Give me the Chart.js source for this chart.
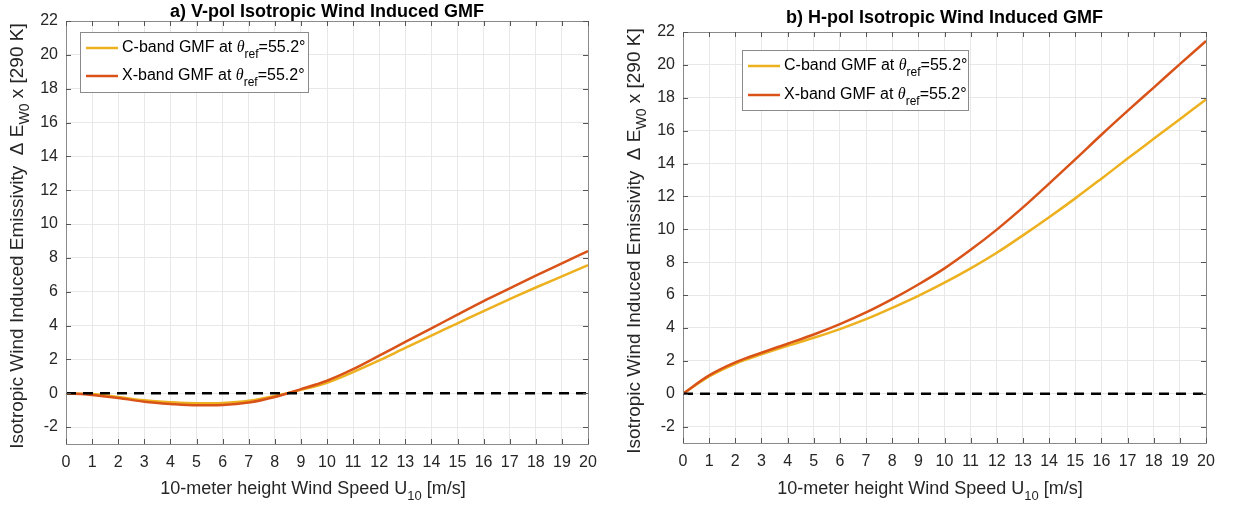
<!DOCTYPE html>
<html>
<head>
<meta charset="utf-8">
<script src="https://cdn.jsdelivr.net/npm/chart.js@4"></script>
<style>
  body { margin: 0; background: #fff; }
  #wrap { position: relative; width: 1242px; height: 509px; }
  canvas { position: absolute; top: 0; }
</style>
</head>
<body>
<div id="wrap">
  <canvas id="vpol" width="620" height="509" style="left:0"></canvas>
  <canvas id="hpol" width="622" height="509" style="left:620px"></canvas>
</div>
<script>
// wind speed U10 [m/s]
const windSpeed = [0, 1, 2, 3, 4, 5, 6, 7, 8, 9, 10, 11, 12, 13, 14, 15, 16, 17, 18, 19, 20];

// V-pol isotropic wind induced emissivity (x 290 K)
const vpolC = [0, -0.05, -0.22, -0.42, -0.53, -0.59, -0.57, -0.45, -0.16, 0.2, 0.62, 1.25, 1.94, 2.68, 3.41, 4.13, 4.86, 5.56, 6.25, 6.91, 7.57];
const vpolX = [0, -0.1, -0.28, -0.5, -0.63, -0.71, -0.69, -0.55, -0.22, 0.24, 0.74, 1.42, 2.22, 3.03, 3.83, 4.65, 5.45, 6.2, 6.95, 7.68, 8.4];

// H-pol isotropic wind induced emissivity (x 290 K)
const hpolC = [0, 1.05, 1.82, 2.39, 2.91, 3.4, 3.93, 4.53, 5.22, 5.95, 6.75, 7.62, 8.57, 9.63, 10.73, 11.88, 13.08, 14.3, 15.5, 16.7, 17.9];
const hpolX = [0, 1.11, 1.9, 2.49, 3.04, 3.6, 4.23, 4.94, 5.75, 6.64, 7.62, 8.75, 9.98, 11.33, 12.78, 14.25, 15.75, 17.2, 18.62, 20.05, 21.45];

// zero reference line
const zeroLineX = [0, 20];
const zeroLineY = [0, 0];

const xTickValues = [0, 1, 2, 3, 4, 5, 6, 7, 8, 9, 10, 11, 12, 13, 14, 15, 16, 17, 18, 19, 20];
const yTickValues = [-2, 0, 2, 4, 6, 8, 10, 12, 14, 16, 18, 20, 22];

const FONT = '"Liberation Sans", Arial, Helvetica, sans-serif';
const SERIF = '"Liberation Serif", "DejaVu Serif", serif';
const C_COLOR = '#EDB120';
const X_COLOR = '#D95319';

const xTitle = [{ t: '10-meter height Wind Speed U' }, { t: '10', sub: true }, { t: ' [m/s]' }];
const yTitle = [{ t: 'Isotropic Wind Induced Emissivity  \u0394 E' }, { t: 'W0', sub: true }, { t: ' x [290 K]' }];
const legendItems = [
  { color: C_COLOR, parts: [{ t: 'C-band GMF at ' }, { t: '\u03b8', it: true }, { t: 'ref', sub: true }, { t: '=55.2\u00b0' }] },
  { color: X_COLOR, parts: [{ t: 'X-band GMF at ' }, { t: '\u03b8', it: true }, { t: 'ref', sub: true }, { t: '=55.2\u00b0' }] }
];

function layoutRich(ctx, parts, size) {
  return parts.map(p => {
    const s = p.sub ? Math.round(size * 0.72) : size;
    const font = (p.it ? 'italic ' : '') + s + 'px ' + (p.it ? SERIF : FONT);
    ctx.font = font;
    return Object.assign({}, p, { font, w: ctx.measureText(p.t).width });
  });
}

function drawRich(ctx, parts, x, y, size, align) {
  const items = layoutRich(ctx, parts, size);
  const total = items.reduce((a, b) => a + b.w, 0);
  let cx = align === 'center' ? x - total / 2 : x;
  ctx.textAlign = 'left';
  ctx.textBaseline = 'middle';
  items.forEach(p => {
    ctx.font = p.font;
    ctx.fillText(p.t, cx, y + (p.sub ? size * 0.4 : 0));
    cx += p.w;
  });
}

// axes box, inward ticks, titles and legend
const gmfDeco = {
  id: 'gmfDeco',
  afterDraw(chart, args, o) {
    const { ctx, chartArea: a, scales } = chart;
    ctx.save();
    ctx.lineWidth = 1;
    ctx.strokeStyle = '#8a8a8a';
    ctx.strokeRect(Math.round(a.left) + 0.5, Math.round(a.top) + 0.5, Math.round(a.width), Math.round(a.height));

    ctx.strokeStyle = '#555';
    ctx.beginPath();
    scales.x.ticks.forEach(t => {
      const px = Math.round(scales.x.getPixelForValue(t.value)) + 0.5;
      ctx.moveTo(px, a.bottom); ctx.lineTo(px, a.bottom - 5);
      ctx.moveTo(px, a.top); ctx.lineTo(px, a.top + 5);
    });
    scales.y.ticks.forEach(t => {
      const py = Math.round(scales.y.getPixelForValue(t.value)) + 0.5;
      ctx.moveTo(a.left, py); ctx.lineTo(a.left + 5, py);
      ctx.moveTo(a.right, py); ctx.lineTo(a.right - 5, py);
    });
    ctx.stroke();

    ctx.fillStyle = '#000';
    ctx.font = 'bold 18px ' + FONT;
    ctx.textAlign = 'center';
    ctx.textBaseline = 'middle';
    ctx.fillText(o.title, (a.left + a.right) / 2, o.titleY);

    ctx.fillStyle = '#262626';
    drawRich(ctx, xTitle, o.xTitleX, o.xTitleY, 18, 'center');
    ctx.save();
    ctx.translate(o.yTitleX, o.yTitleY);
    ctx.rotate(-Math.PI / 2);
    drawRich(ctx, yTitle, 0, 0, 19, 'center');
    ctx.restore();

    const L = o.legend;
    ctx.fillStyle = '#fff';
    ctx.fillRect(L.x, L.y, L.w, L.h);
    ctx.strokeStyle = '#8a8a8a';
    ctx.lineWidth = 1;
    ctx.strokeRect(L.x + 0.5, L.y + 0.5, L.w, L.h);
    legendItems.forEach((item, i) => {
      const ry = L.y + L.rows[i];
      ctx.strokeStyle = item.color;
      ctx.lineWidth = 2.5;
      ctx.beginPath();
      ctx.moveTo(L.x + 6, ry); ctx.lineTo(L.x + 38, ry);
      ctx.stroke();
      ctx.fillStyle = '#000';
      drawRich(ctx, item.parts, L.x + 42, ry, 16, 'left');
    });
    ctx.restore();
  }
};

function series(xs, ys) {
  return xs.map((x, i) => ({ x, y: ys[i] }));
}

function makeChart(id, c, x, deco, pad, yWidth, xHeight) {
  return new Chart(document.getElementById(id), {
    type: 'line',
    data: {
      datasets: [
        { data: series(zeroLineX, zeroLineY), borderColor: '#000', borderWidth: 2.6, borderDash: [10, 7], pointRadius: 0 },
        { data: series(windSpeed, x), borderColor: X_COLOR, borderWidth: 2.5, pointRadius: 0, cubicInterpolationMode: 'monotone' },
        { data: series(windSpeed, c), borderColor: C_COLOR, borderWidth: 2.5, pointRadius: 0, cubicInterpolationMode: 'monotone' }
      ]
    },
    options: {
      responsive: false,
      animation: false,
      devicePixelRatio: 1,
      layout: { padding: pad },
      plugins: { legend: { display: false }, tooltip: { enabled: false }, gmfDeco: deco },
      scales: {
        x: {
          type: 'linear', min: 0, max: 20,
          afterBuildTicks: s => { s.ticks = xTickValues.map(v => ({ value: v })); },
          afterFit: s => { s.height = xHeight; },
          grid: { color: '#e8e8e8', drawTicks: false },
          border: { display: false },
          ticks: { color: '#262626', font: { family: FONT, size: 16 }, padding: 9, maxRotation: 0, autoSkip: false }
        },
        y: {
          type: 'linear', min: -3, max: 22,
          afterBuildTicks: s => { s.ticks = yTickValues.map(v => ({ value: v })); },
          afterFit: s => { s.width = yWidth; },
          grid: { color: '#e8e8e8', drawTicks: false },
          border: { display: false },
          ticks: { color: '#262626', font: { family: FONT, size: 16 }, padding: 8 }
        }
      }
    },
    plugins: [gmfDeco]
  });
}

makeChart('vpol', vpolC, vpolX, {
  title: 'a) V-pol Isotropic Wind Induced GMF', titleY: 12,
  xTitleX: 313, xTitleY: 489, yTitleX: 18, yTitleY: 236,
  legend: { x: 80, y: 32, w: 228, h: 60, rows: [16, 44] }
}, { left: 0, top: 21, right: 32, bottom: 0 }, 66, 65);

makeChart('hpol', hpolC, hpolX, {
  title: 'b) H-pol Isotropic Wind Induced GMF', titleY: 18,
  xTitleX: 310, xTitleY: 489, yTitleX: 15, yTitleY: 241,
  legend: { x: 122, y: 50, w: 226, h: 60, rows: [16, 45] }
}, { left: 0, top: 32, right: 36, bottom: 0 }, 63, 66);
</script>
</body>
</html>
